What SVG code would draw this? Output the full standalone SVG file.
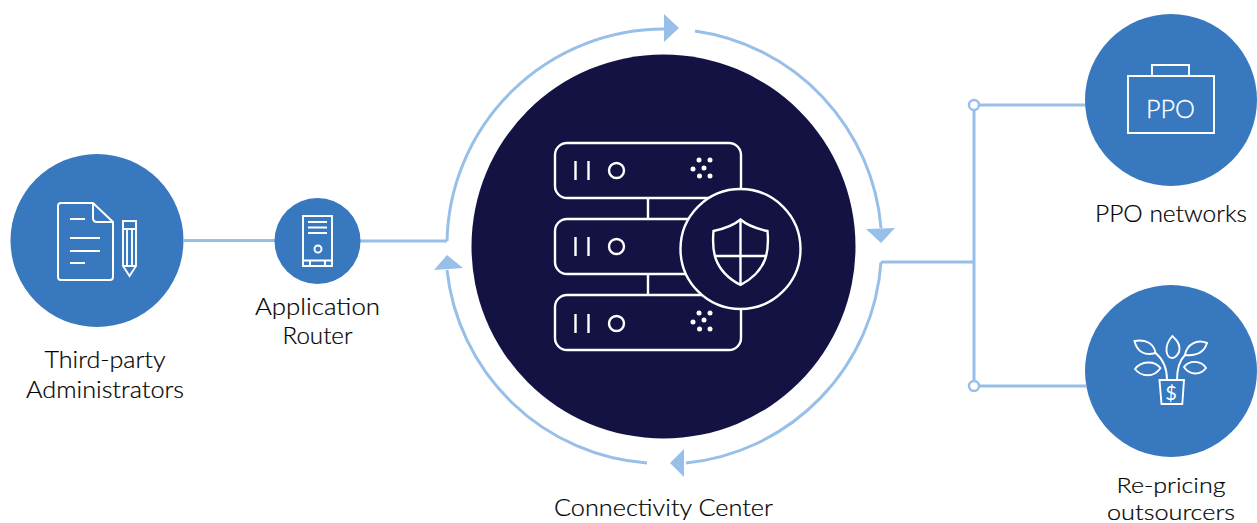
<svg xmlns="http://www.w3.org/2000/svg" width="1257" height="523" viewBox="0 0 1257 523">
<style>
.blue{fill:#3778bf}
.wire{fill:none;stroke:#97bfe8;stroke-width:3}
.head{fill:#97bfe8}
.ic{fill:none;stroke:#fff;stroke-width:2;stroke-linejoin:round}
.ic1{fill:none;stroke:#fff;stroke-width:1.9}
.srv{fill:none;stroke:#fff;stroke-width:2.4}
.dot{fill:#fff}
.lbl{font-family:"Lato","Liberation Sans",sans-serif;font-size:23px;font-weight:300;fill:#000;stroke:#000;stroke-width:.2;text-anchor:middle}
.sm{font-size:22px}
</style>
<g id="connectors">
<path class="wire" d="M184 240.500H275M360 241H447"/>
<path class="wire" d="M447 241A217 217 0 0 1 664 29"/>
<path class="wire" d="M695 31A217 217 0 0 1 881 228"/>
<path class="wire" d="M881 262A217 217 0 0 1 686 463"/>
<path class="wire" d="M647 463A217 217 0 0 1 447 270"/>
<path class="wire" d="M881 262H974M974 105V386M974 105H1086M974 386H1086"/>
<circle cx="974" cy="105" r="5" fill="#fff" stroke="#97bfe8" stroke-width="2.4"/>
<circle cx="974" cy="386" r="5" fill="#fff" stroke="#97bfe8" stroke-width="2.4"/>
<polygon class="head" points="664,14 679,28 664,42"/>
<polygon class="head" points="866,229 895,228 881,243"/>
<polygon class="head" points="684,449 670,463 684,477"/>
<polygon class="head" points="434,270 447,255 463,268"/>
</g>
<g id="tpa">
<circle class="blue" cx="97" cy="240.500" r="86.500"/>
<path class="ic" d="M93 203H61Q58 203 58 206V277Q58 280 61 280H110Q113 280 113 277V222ZM93 203V218Q93 222 97 222H113"/>
<path class="ic" d="M70 219H85M70 238H100M70 251H100M70 263H85"/>
<path class="ic1" d="M123 221H136V266L129.500 276L123 266ZM123 229H136M127 229V265M132 229V265M123 266H136"/>
<text class="lbl" x="105" y="368" textLength="121" lengthAdjust="spacingAndGlyphs">Third-party</text>
<text class="lbl" x="105" y="398" textLength="158" lengthAdjust="spacingAndGlyphs">Administrators</text>
</g>
<g id="router">
<circle class="blue" cx="317.500" cy="241" r="43"/>
<path class="ic1" d="M303 216H332V266H303ZM303 260.500H332M310 260.500V266M325 260.500V266M308 222H327M308 227.500H327M308 233H327"/>
<circle class="ic1" cx="318" cy="249" r="3.500"/>
<text class="lbl" x="317.500" y="315" textLength="125" lengthAdjust="spacingAndGlyphs">Application</text>
<text class="lbl" x="317.500" y="344" textLength="70" lengthAdjust="spacingAndGlyphs">Router</text>
</g>
<g id="center">
<circle cx="663.500" cy="246.500" r="192" fill="#131243"/>
<rect class="srv" x="555" y="143" width="186" height="55" rx="12"/>
<rect class="srv" x="555" y="219" width="186" height="55" rx="12"/>
<rect class="srv" x="555" y="295" width="186" height="55" rx="12"/>
<path class="srv" d="M648 198V219M648 274V295M575.500 161V180M588.500 161V180M575.500 237V256M588.500 237V256M575.500 314V333M588.500 314V333"/>
<circle class="srv" cx="616.500" cy="170.500" r="7.500"/>
<circle class="srv" cx="616.500" cy="246.500" r="7.500"/>
<circle class="srv" cx="616.500" cy="323.500" r="7.500"/>
<g class="dot">
<circle cx="699" cy="160" r="2.500"/><circle cx="710" cy="160" r="2.500"/><circle cx="693" cy="169" r="2.500"/><circle cx="704" cy="168" r="2.500"/><circle cx="699.500" cy="176" r="2.500"/><circle cx="710" cy="176" r="2.500"/>
<circle cx="699" cy="313" r="2.500"/><circle cx="710" cy="313" r="2.500"/><circle cx="693" cy="322" r="2.500"/><circle cx="704" cy="320" r="2.500"/><circle cx="699.500" cy="329" r="2.500"/><circle cx="710" cy="329" r="2.500"/>
</g>
<circle cx="740.500" cy="249" r="60" fill="#131243" stroke="#fff" stroke-width="2.400"/>
<path class="srv" d="M740.500 219.500C748 226 758 229 767.500 231C769 248 769 270 740.500 285C712 270 712 248 713.500 231C723 229 733 226 740.500 219.500ZM740.500 219.500V285M714.500 256H766.500"/>
<text class="lbl" x="663.500" y="516" textLength="219" lengthAdjust="spacingAndGlyphs">Connectivity Center</text>
</g>
<g id="ppo">
<circle class="blue" cx="1171" cy="100" r="86"/>
<path class="ic1" d="M1128 76H1214V133H1128ZM1152 76V65H1189V76"/>
<text x="1170.500" y="118" text-anchor="middle" font-family="Lato,'Liberation Sans',sans-serif" font-size="25" font-weight="300" fill="#fff" stroke="#fff" stroke-width=".3" textLength="49" lengthAdjust="spacingAndGlyphs">PPO</text>
<text class="lbl" x="1171" y="222" textLength="152" lengthAdjust="spacingAndGlyphs">PPO networks</text>
</g>
<g id="repricing">
<circle class="blue" cx="1171" cy="371" r="86"/>
<g class="ic1">
<path d="M1159.500 380H1184L1182.300 404H1161.500Z"/>
<path d="M1134.500 341C1145 339 1154 343 1155.500 353C1145 356 1137 352 1134.500 341Z"/>
<path d="M1172.300 336C1178 341 1181 346 1179 352C1177 356 1175 358 1172.300 358C1169 358 1167 355 1166.500 351C1166 346 1168 341 1172.300 336Z"/>
<path d="M1207 343C1197 339 1187 344 1185 355C1196 356 1204 353 1207 343Z"/>
<path d="M1135 369C1141 361 1154 360 1160.500 368C1154 378 1141 377 1135 369Z"/>
<path d="M1184 367C1189 360 1201 360 1206 368C1200 376 1189 375 1184 367Z"/>
<path d="M1155.500 353C1164 360 1167 370 1167 380M1185 355C1178 362 1177 372 1177 380"/>
</g>
<text x="1171" y="400" text-anchor="middle" font-family="Lato,'Liberation Sans',sans-serif" font-size="20" fill="#fff">$</text>
<text class="lbl sm" x="1171" y="493" textLength="109" lengthAdjust="spacingAndGlyphs">Re-pricing</text>
<text class="lbl sm" x="1171" y="519.500" textLength="128" lengthAdjust="spacingAndGlyphs">outsourcers</text>
</g>
</svg>
